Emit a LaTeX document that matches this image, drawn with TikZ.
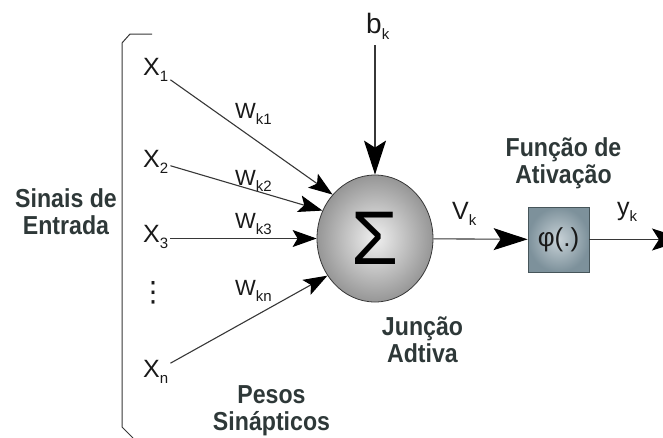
\documentclass[tikz,border=0pt]{standalone}
\usepackage{fontspec}
\setmainfont{Liberation Sans}
\newfontfamily\tagfont{Liberation Sans}[FakeStretch=0.89]
\newfontfamily\symfont{DejaVu Sans}
\usetikzlibrary{arrows.meta,shapes.geometric}

\definecolor{ink}{RGB}{25,25,25}
\definecolor{slate}{RGB}{46,56,56}
\definecolor{wire}{RGB}{55,55,55}
\definecolor{ballin}{RGB}{240,240,240}
\definecolor{ballout}{RGB}{150,150,150}
\definecolor{boxin}{RGB}{200,210,215}
\definecolor{boxout}{RGB}{125,145,155}
\definecolor{boxedge}{RGB}{70,85,90}

\newcommand\lowidx[1]{\raisebox{-6pt}{\fontsize{15}{15}\selectfont #1}}

\begin{document}
\begin{tikzpicture}[x=1pt, y=-1pt,
  sig/.style={font=\fontsize{25}{25}\selectfont, text=ink, inner sep=2pt},
  wgt/.style={font=\fontsize{22}{22}\selectfont, text=ink, inner sep=0pt, anchor=base west},
  tag/.style={font=\tagfont\bfseries\fontsize{26}{27}\selectfont, text=slate, align=center, inner sep=0pt},
  syn/.style={draw=wire, line width=1.1pt, -{Stealth[length=24pt, width=17pt, inset=5pt, color=black]}},
  feed/.style={draw=wire, line width=1.1pt, -{Stealth[length=34pt, width=22pt, inset=7pt, color=black]}},
]
\useasboundingbox (0,0) rectangle (663,437);

% the bracket round the inputs
\draw[wire, line width=1pt] (152,34) -- (130,34) -- (122,43) -- (122,427) -- (133,438);

% inputs and weights
\foreach \i/\yy in {1/75, 2/167, 3/242, n/377}
  \node[sig, anchor=base west] (x\i) at (141,\yy) {X\lowidx{\i}};
\node[sig, font=\symfont\fontsize{28}{28}\selectfont] (dots) at (153,293) {⋮};
\foreach \i/\yy in {1/118, 2/185, 3/228, n/295}
  \node[wgt] (w\i) at (235,\yy) {W\lowidx{k\i}};

% summing junction and activation
\node[ellipse, minimum width=116pt, minimum height=127pt, inner sep=0pt,
      draw=wire, line width=0.8pt, shading=radial, inner color=ballin,
      outer color=ballout] (sum) at (375,238.5) {\fontsize{76}{76}\selectfont Σ};
\node[draw=boxedge, line width=0.8pt, minimum width=61pt, minimum height=65pt,
      shading=radial, inner color=boxin, outer color=boxout,
      font=\fontsize{26}{26}\selectfont, text=ink] (phi) at (558.5,239.5) {φ(.)};

\node[sig, font=\fontsize{28}{28}\selectfont, anchor=base west] (bk) at (364,33) {b\lowidx{k}};
\node[sig, anchor=base west] (vk) at (450,219) {V\lowidx{k}};
\node[sig, anchor=base west] (yk) at (615,215) {y\lowidx{k}};
\coordinate (out) at (686,239.5);

% captions
\node[tag] (entrada) at (66,211.5) {Sinais de\\Entrada};
\node[tag] (ativ) at (563.5,163) {Função de\\Ativação};
\node[tag] (junc) at (422.5,339.5) {Junção\\Adtiva};
\node[tag] (pesos) at (271.5,410.5) {Pesos\\Sinápticos};

% connectors
\draw[syn] (x1) -- (sum.134);
\draw[syn] (x2) -- (sum.152);
\draw[syn] (x3.east |- sum.west) -- (sum.west);
\draw[syn] (xn) -- (sum.218);
\draw[feed, shorten <=4pt] (sum.north |- bk.south) -- (sum.north);
\draw[feed] (sum) -- (phi);
\draw[feed] (phi) -- (out);

\end{tikzpicture}
\end{document}
